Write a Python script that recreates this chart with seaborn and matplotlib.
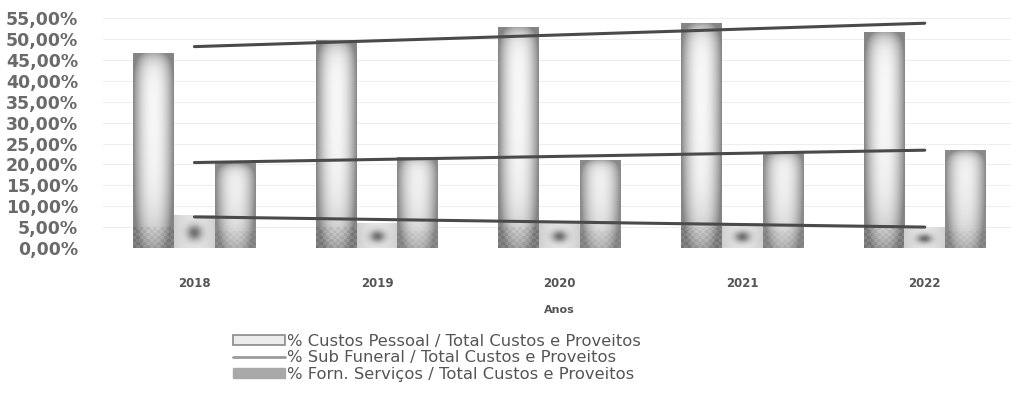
import numpy as np
import pandas as pd
import matplotlib
matplotlib.use("Agg")
import matplotlib.pyplot as plt
import seaborn as sns
from matplotlib.patches import Patch
from matplotlib.lines import Line2D
from matplotlib.ticker import FuncFormatter, MultipleLocator

# Values in percent of total costs and income
anos = ["2018", "2019", "2020", "2021", "2022"]
custos_pessoal = [46.7, 49.8, 52.9, 53.8, 51.7]
sub_funeral = [8.0, 6.0, 6.2, 5.9, 5.0]
forn_servicos = [20.3, 21.8, 21.1, 23.0, 23.4]
series_names = [
    "% Custos Pessoal / Total Custos e Proveitos",
    "% Sub Funeral / Total Custos e Proveitos",
    "% Forn. Serviços / Total Custos e Proveitos",
]

df = pd.DataFrame({
    "Ano": anos * 3,
    "Serie": np.repeat(series_names, len(anos)),
    "Valor": custos_pessoal + sub_funeral + forn_servicos,
})

sns.set_theme(style="white")
plt.rcParams["font.family"] = ["DejaVu Sans"]

fig = plt.figure(figsize=(10.11, 3.94), dpi=100)
ax = fig.add_axes([0.102, 0.3706, 0.903, 0.5834])

sns.barplot(data=df, x="Ano", y="Valor", hue="Serie", hue_order=series_names,
            order=anos, palette=["#c8c8c8", "#dcdcdc", "#c0c0c0"],
            width=0.67, gap=0, linewidth=0, legend=False, ax=ax)

ax.set_ylim(0, 55)
ax.set_xlim(-0.5, 4.5)


def shade_bar(patch, kind):
    """Fill a bar with a soft grey gradient clipped to its outline."""
    x0, y0 = patch.get_x(), patch.get_y()
    w, h = patch.get_width(), patch.get_height()
    ny = max(int(h * 4.2), 4)
    nx = 40
    xs = (np.arange(nx) + 0.5) / nx
    ys = (np.arange(ny) + 0.5) / ny * h          # distance from top, in %
    X, D = np.meshgrid(xs, ys)
    B = h - D                                    # distance from bottom
    edge = np.abs(2 * X - 1)
    chk = ((np.floor(X * 12) + np.floor(B / 0.7)) % 2 == 0)
    if kind == 0:
        hx = edge ** 2.2
        vt = np.exp(-D / 2.2)
        vb = np.exp(-B / 7.0)
        dark = np.clip(hx + 0.8 * vt + 0.7 * vb, 0, 1)
        img = 0.97 - 0.45 * dark - 0.06 * (chk & (B < 5))
    elif kind == 1:
        blob = np.exp(-((X - 0.5) / 0.18) ** 2 - ((B / h - 0.45) / 0.22) ** 2)
        img = 0.89 - 0.08 * edge ** 2 - 0.45 * blob
    else:
        hx = edge ** 2.2
        vt = np.exp(-D / 1.2)
        vb = np.exp(-B / 6.0)
        dark = np.clip(hx + 0.9 * vt + 0.6 * vb, 0, 1)
        img = 0.96 - 0.42 * dark - 0.04 * (chk & (B < 4))
    im = ax.imshow(img, cmap="gray", vmin=0, vmax=1, aspect="auto",
                   extent=(x0, x0 + w, y0, y0 + h), origin="upper",
                   interpolation="bilinear", zorder=patch.get_zorder() + 0.1)
    im.set_clip_path(patch)


n = len(anos)
for i, patch in enumerate(ax.patches[:3 * n]):
    shade_bar(patch, i // n)

ax.set_xlim(-0.5, 4.5)
ax.set_ylim(0, 55)

# linear trend lines for each series
xi = np.arange(n)
for vals in (custos_pessoal, sub_funeral, forn_servicos):
    k, b = np.polyfit(xi, vals, 1)
    sns.lineplot(x=xi, y=k * xi + b, color="#4a4a4a", linewidth=2.2, ax=ax,
                 zorder=5)

ax.yaxis.set_major_locator(MultipleLocator(5))
ax.yaxis.set_major_formatter(FuncFormatter(lambda v, p: f"{v:.2f}".replace(".", ",") + "%"))
ax.grid(axis="y", color="#eeeeee", linewidth=0.8)
ax.set_axisbelow(True)
for s in ax.spines.values():
    s.set_visible(False)

ax.tick_params(axis="y", length=0, pad=18, labelsize=12.5, labelcolor="#6a6a6a")
ax.tick_params(axis="x", length=0, pad=21, labelsize=8.5, labelcolor="#555555")
for t in ax.get_yticklabels():
    t.set_fontweight("bold")
for t in ax.get_xticklabels():
    t.set_fontweight("bold")
ax.set_ylabel("")
ax.set_xlabel("Anos", fontsize=8, fontweight="bold", color="#555555", labelpad=11)

handles = [
    Patch(facecolor="#ececec", edgecolor="#8a8a8a", linewidth=1.2),
    Line2D([0], [0], color="#9a9a9a", linewidth=2),
    Patch(facecolor="#a8a8a8", edgecolor="#a8a8a8"),
]
fig.legend(handles, series_names, loc="center left",
           bbox_to_anchor=(0.222, 0.0914), frameon=False, fontsize=11.8,
           labelcolor="#555555", handlelength=3.2, handleheight=0.55,
           handletextpad=0.12, labelspacing=0.08, borderpad=0)

fig.savefig("out.png", dpi=100, facecolor="white")
